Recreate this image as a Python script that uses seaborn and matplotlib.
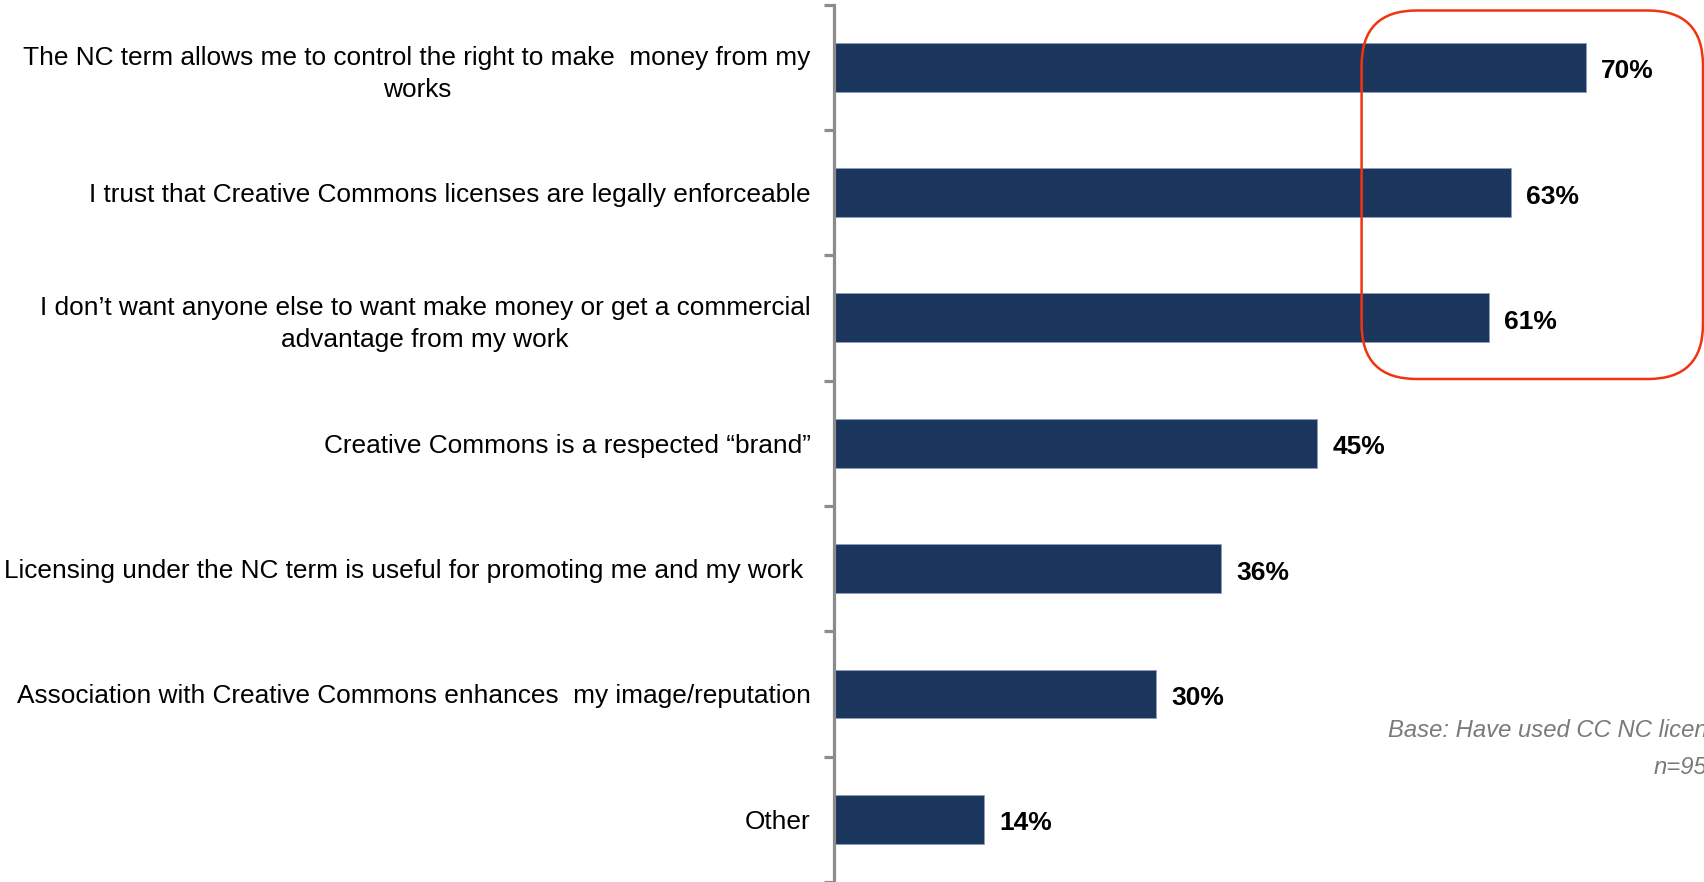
import matplotlib
matplotlib.use("Agg")
import matplotlib.pyplot as plt
import seaborn as sns
import pandas as pd
import numpy as np
from matplotlib.patches import FancyBboxPatch
from matplotlib.transforms import IdentityTransform

categories = [
    "The NC term allows me to control the right to make  money from my\nworks",
    "I trust that Creative Commons licenses are legally enforceable",
    "I don’t want anyone else to want make money or get a commercial\nadvantage from my work",
    "Creative Commons is a respected “brand”",
    "Licensing under the NC term is useful for promoting me and my work ",
    "Association with Creative Commons enhances  my image/reputation",
    "Other",
]
values = [70, 63, 61, 45, 36, 30, 14]
value_labels = ["70%", "63%", "61%", "45%", "36%", "30%", "14%"]
base_text = "Base: Have used CC NC licenses"
n_text = "n=95"

sns.set_theme(style="white")
NARROW = ["Liberation Sans Narrow", "Liberation Sans", "DejaVu Sans"]
plt.rcParams["font.family"] = NARROW

W, H = 1704, 882
fig = plt.figure(figsize=(W / 100, H / 100), dpi=100)
ax_left = 834 / W
ax_top = 1 - 4.5 / H
ax = fig.add_axes([ax_left, 0.0, 1 - ax_left, ax_top])

df = pd.DataFrame({"cat": categories, "val": values})
sns.barplot(data=df, x="val", y="cat", orient="h", color="#1a365d",
            width=0.39, saturation=1, edgecolor="#8ea1b9", linewidth=0.6, ax=ax)

ax.set_xlim(0, 81)
ax.set_ylim(6.5, -0.5)
ax.set_xlabel("")
ax.set_ylabel("")
ax.set_xticks([])

for s in ["top", "right", "bottom"]:
    ax.spines[s].set_visible(False)
ax.spines["left"].set_color("#8c8c8c")
ax.spines["left"].set_linewidth(2.3)

ax.set_yticks(range(len(categories)))
ax.set_yticklabels(categories, fontsize=18.9, family=NARROW, color="black",
                   multialignment="center", linespacing=1.42)
ax.tick_params(axis="y", which="major", left=False, length=0, pad=17)
ax.set_yticks(np.arange(-0.5, len(categories), 1.0), minor=True)
ax.tick_params(axis="y", which="minor", left=True, length=7, width=2.3,
               color="#8c8c8c", direction="out")

for i, (v, lab) in enumerate(zip(values, value_labels)):
    ax.annotate(lab, xy=(v, i), xytext=(11, -3), textcoords="offset points",
                ha="left", va="center", fontsize=19, fontweight="bold",
                family=NARROW, color="black")

# red rounded highlight box (pixel coordinates)
x0, x1 = 1361.6, 1703.0
y0_top, y1_bot = 10.5, 379.0
box = FancyBboxPatch((x0, H - y1_bot), x1 - x0, y1_bot - y0_top,
                     boxstyle="round,pad=0,rounding_size=55",
                     transform=IdentityTransform(), fill=False,
                     edgecolor="#f2330f", linewidth=1.8)
fig.patches.append(box)

fig.text(1388 / W, 1 - 737 / H, base_text, ha="left", va="baseline",
         fontsize=17.2, style="italic", color="#7a7a7a",
         family=["Liberation Sans", "DejaVu Sans"])
fig.text(1654 / W, 1 - 774 / H, n_text, ha="left", va="baseline",
         fontsize=17.2, style="italic", color="#7a7a7a",
         family=["Liberation Sans", "DejaVu Sans"])

fig.savefig("out.png", dpi=100)
